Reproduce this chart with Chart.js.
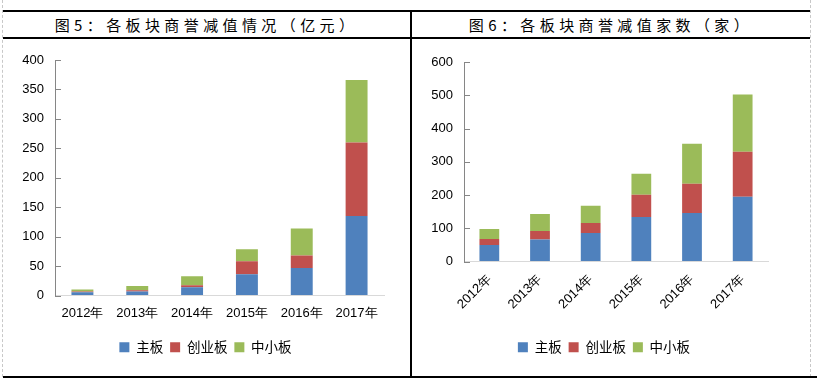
<!DOCTYPE html>
<html>
<head>
<meta charset="utf-8">
<script src="https://cdn.jsdelivr.net/npm/chart.js@4"></script>
<style>
    body { margin: 0; background: #fff; }
    #page { position: relative; width: 817px; height: 388px; overflow: hidden; }
    .line { position: absolute; background: #000; }
    .dash { position: absolute; border-left: 1px dashed #c8c8c8; }
    .title { position: absolute; top: 12px; height: 26px; line-height: 26px; text-align: center;
             font-family: "Noto Sans CJK SC", sans-serif; font-size: 15px; letter-spacing: 4.4px; color: #000; }
    .box { position: absolute; top: 40px; height: 336px; }
</style>
</head>
<body>
<div id="page">
    <div class="dash" style="left:2px; top:0; height:377px;"></div>
    <div class="dash" style="left:810px; top:0; height:377px;"></div>
    <div class="line" style="left:3px; top:10px; width:807px; height:2px;"></div>
    <div class="line" style="left:3px; top:37px; width:807px; height:2px;"></div>
    <div class="line" style="left:410px; top:10px; width:2px; height:368px;"></div>
    <div class="line" style="left:3px; top:376px; width:814px; height:2px;"></div>

    <div class="title" style="left:3px; width:407px;">图5：各板块商誉减值情况（亿元）</div>
    <div class="title" style="left:412px; width:398px;">图6：各板块商誉减值家数（家）</div>

    <div class="box" style="left:3px; width:407px;"><canvas id="amountChart"></canvas></div>
    <div class="box" style="left:412px; width:398px;"><canvas id="countChart"></canvas></div>
</div>

<script>
const years = ['2012年', '2013年', '2014年', '2015年', '2016年', '2017年'];
const seriesNames = ['主板', '创业板', '中小板'];

// 图5 商誉减值金额（亿元）
const amountMain = [5.5, 7, 14, 36, 46.5, 135];
const amountGem = [1.5, 2, 3.5, 22, 21.5, 125];
const amountSme = [3, 7, 15, 20.5, 46, 106];

// 图6 商誉减值家数（家）
const countMain = [50, 66, 86, 134, 146, 195];
const countGem = [18, 26, 30, 67, 88, 135];
const countSme = [30, 51, 52, 63, 120, 172];

const colors = ['#4F81BD', '#C0504D', '#9BBB59'];

// excel style tick marks pointing into the plot
const innerTicks = {
    id: 'innerTicks',
    afterDatasetsDraw(chart) {
        const y = chart.scales.y;
        const ctx = chart.ctx;
        ctx.save();
        ctx.strokeStyle = '#868686';
        ctx.lineWidth = 1;
        y.ticks.forEach((t, i) => {
            const py = Math.round(y.getPixelForTick(i)) + 0.5;
            ctx.beginPath();
            ctx.moveTo(y.right, py);
            ctx.lineTo(y.right + 6, py);
            ctx.stroke();
        });
        ctx.restore();
    }
};

// the legend is centred on the plot, not on the whole canvas
const legendSpan = {
    id: 'legendSpan',
    afterLayout(chart, args, opts) {
        if (chart.legend) {
            chart.legend.left = opts.left;
            chart.legend.right = opts.right;
        }
    }
};

function makeChart(id, values, yMax, yStep, opts) {
    const ctx = document.getElementById(id);
    return new Chart(ctx, {
        type: 'bar',
        data: {
            labels: years,
            datasets: seriesNames.map((name, i) => ({
                label: name,
                data: values[i],
                backgroundColor: colors[i],
                barPercentage: opts.barPct,
                categoryPercentage: 1
            }))
        },
        options: {
            responsive: true,
            maintainAspectRatio: false,
            animation: false,
            layout: {
                padding: { top: opts.top, right: opts.right, bottom: opts.bottom, left: 0 }
            },
            plugins: {
                tooltip: { enabled: false },
                legendSpan: { left: opts.legendLeft, right: opts.legendRight },
                legend: {
                    position: 'bottom',
                    labels: {
                        boxWidth: 10,
                        boxHeight: 10,
                        padding: 7,
                        color: '#000',
                        font: { family: '"Noto Sans CJK SC", sans-serif', size: 13.5 }
                    }
                }
            },
            scales: {
                x: {
                    stacked: true,
                    grid: { display: false, drawTicks: false },
                    border: { color: '#d9d9d9', width: 1 },
                    ticks: {
                        color: '#000',
                        padding: opts.xPad,
                        minRotation: opts.rot,
                        maxRotation: opts.rot,
                        font: { family: '"Liberation Sans", Arial, sans-serif', size: 13 }
                    },
                    afterFit: scale => { scale.height = opts.xHeight; }
                },
                y: {
                    stacked: true,
                    min: 0,
                    max: yMax,
                    grid: { drawOnChartArea: false, drawTicks: false },
                    border: { color: '#868686', width: 1 },
                    ticks: {
                        stepSize: yStep,
                        color: '#000',
                        padding: 11,
                        font: { family: '"Liberation Sans", Arial, sans-serif', size: 13 }
                    },
                    afterFit: scale => { scale.width = 52; }
                }
            }
        },
        plugins: [innerTicks, legendSpan]
    });
}

makeChart('amountChart', [amountMain, amountGem, amountSme], 400, 50,
    { barPct: 0.4, top: 20, right: 26, bottom: 12, xHeight: 38, xPad: 10, rot: 0,
      legendLeft: 24, legendRight: 381 });
makeChart('countChart', [countMain, countGem, countSme], 600, 100,
    { barPct: 0.39, top: 22, right: 42, bottom: 12, xHeight: 72, xPad: 10, rot: 45,
      legendLeft: 28, legendRight: 356 });
</script>
</body>
</html>
